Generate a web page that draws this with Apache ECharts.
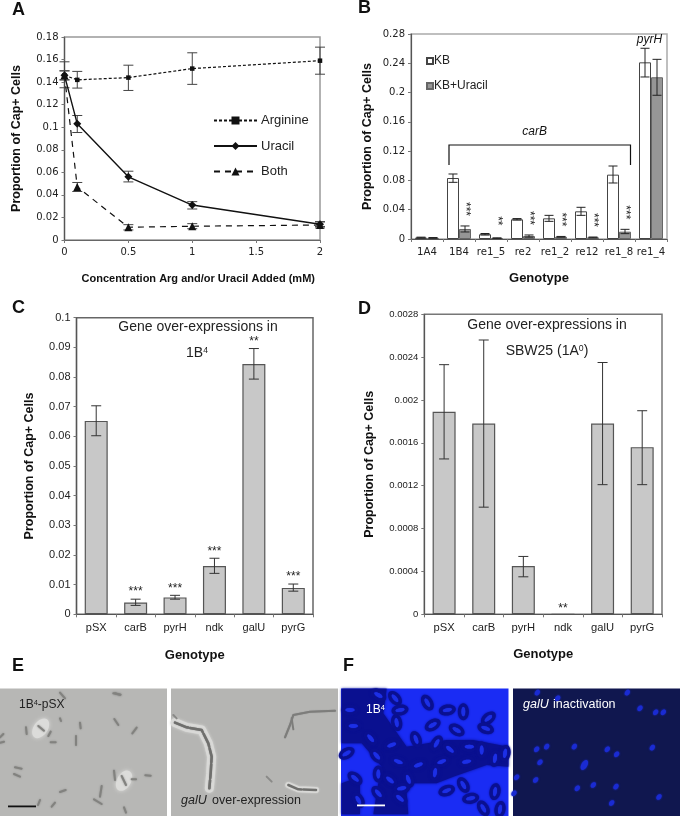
<!DOCTYPE html>
<html><head><meta charset="utf-8">
<style>html,body{margin:0;padding:0;background:#fff}#c{width:680px;height:816px}</style>
<script src="https://cdn.jsdelivr.net/npm/echarts@6/dist/echarts.min.js"></script>
</head><body><div id="c"></div>
<script>
// ---------- Panel A data ----------
const concX = [0, 0.1, 0.5, 1, 2];
const arginine = [0.146, 0.142, 0.144, 0.152, 0.159];
const arginineLo = [0.135, 0.1347, 0.1326, 0.138, 0.147];
const arginineHi = [0.158, 0.1495, 0.155, 0.166, 0.171];
const uracil = [0.146, 0.103, 0.056, 0.031, 0.014];
const uracilLo = [0.142, 0.0953, 0.0515, 0.0275, 0.012];
const uracilHi = [0.15, 0.1104, 0.061, 0.034, 0.0163];
const both = [0.146, 0.047, 0.0113, 0.0122, 0.0133];
const bothLo = [0.142, 0.043, 0.0089, 0.010, 0.0107];
const bothHi = [0.15, 0.051, 0.0136, 0.0145, 0.016];
// ---------- Panel B data ----------
const genotypesB = ['1A4', '1B4', 're1_5', 're2', 're1_2', 're12', 're1_8', 're1_4'];
const kb = [0.002, 0.0833, 0.0065, 0.0269, 0.0282, 0.0378, 0.0879, 0.2413];
const kbLo = [0.0015, 0.0774, 0.0055, 0.0259, 0.0241, 0.0323, 0.0765, 0.2213];
const kbHi = [0.0025, 0.0888, 0.0075, 0.0279, 0.0323, 0.0433, 0.0997, 0.2605];
const kbUracil = [0.0015, 0.0137, 0.0012, 0.004, 0.003, 0.0022, 0.010, 0.2209];
const kbUracilLo = [0.001, 0.0096, 0.0008, 0.0025, 0.0025, 0.0017, 0.0073, 0.1963];
const kbUracilHi = [0.002, 0.0178, 0.0016, 0.0055, 0.0035, 0.0027, 0.0132, 0.2454];
const starsB = ['', '***', '**', '***', '***', '***', '***', ''];
// ---------- Panel C data ----------
const genes = ['pSX', 'carB', 'pyrH', 'ndk', 'galU', 'pyrG'];
const cVals = [0.0652, 0.0040, 0.0057, 0.0163, 0.0844, 0.0089];
const cLo = [0.0602, 0.0030, 0.0051, 0.0138, 0.0793, 0.0078];
const cHi = [0.0703, 0.0051, 0.0064, 0.0189, 0.0896, 0.0102];
const starsC = ['', '***', '***', '***', '**', '***'];
// ---------- Panel D data ----------
const dVals = [0.00189, 0.00178, 0.00045, 0, 0.00178, 0.00156];
const dLo = [0.00145, 0.0010, 0.00035, 0, 0.00121, 0.00121];
const dHi = [0.00233, 0.00256, 0.00054, 0, 0.00235, 0.0019];
const starsD = ['', '', '', '**', '', ''];

const SANS = '"Liberation Sans", Arial, sans-serif';
const VERD = '"DejaVu Sans", Verdana, sans-serif';

function errSeries(name, xAxisIndex, yAxisIndex, xs, lo, hi, opt) {
  opt = opt || {};
  const cap = opt.cap || 4, off = opt.off || 0, color = opt.color || '#333', lw = opt.lw || 1;
  const stars = opt.stars;
  return {
    type: 'custom', name: name, xAxisIndex, yAxisIndex, silent: true, z: 5, clip: false,
    data: xs.map((x, i) => [x, lo[i], hi[i]]),
    encode: { x: 0, y: [1, 2] },
    renderItem(params, api) {
      const a = api.coord([api.value(0), api.value(1)]);
      const b = api.coord([api.value(0), api.value(2)]);
      const x = a[0] + off;
      const st = { stroke: color, lineWidth: lw };
      const kids = [];
      if (a[1] !== b[1]) {
        kids.push({ type: 'line', shape: { x1: x, y1: a[1], x2: x, y2: b[1] }, style: st });
        kids.push({ type: 'line', shape: { x1: x - cap, y1: a[1], x2: x + cap, y2: a[1] }, style: st });
        kids.push({ type: 'line', shape: { x1: x - cap, y1: b[1], x2: x + cap, y2: b[1] }, style: st });
      }
      const s = stars && stars[params.dataIndex];
      if (s) {
        kids.push({
          type: 'text', x: x, y: b[1] - opt.starGap, rotation: opt.starRot || 0,
          style: { text: s, fill: '#222', font: '12px ' + SANS, align: 'center', verticalAlign: 'middle' }
        });
      }
      return { type: 'group', children: kids };
    }
  };
}
const idx = a => a.map((_, i) => i);

function catAxis(gridIndex, data, font, size, name, gap, pad) {
  return {
    type: 'category', gridIndex, data,
    axisLine: { show: true, lineStyle: { color: '#555', width: 1.2 } },
    axisTick: { show: true, length: 3, lineStyle: { color: '#777' } },
    axisLabel: { color: '#222', fontFamily: font, fontSize: size, margin: 8, interval: 0 },
    name, nameLocation: 'middle', nameGap: gap,
    nameTextStyle: { fontFamily: SANS, fontWeight: 'bold', fontSize: 13, color: '#111', padding: pad || 0 }
  };
}
function valAxis(gridIndex, max, interval, font, size, gap, fmt) {
  return {
    type: 'value', gridIndex, min: 0, max, interval,
    splitLine: { show: false },
    axisLine: { show: true, lineStyle: { color: '#555', width: 1.2 } },
    axisTick: { show: true, length: 3, lineStyle: { color: '#777' } },
    axisLabel: { color: '#222', fontFamily: font, fontSize: size, margin: 6, formatter: fmt },
    name: 'Proportion of Cap+ Cells', nameLocation: 'middle', nameGap: gap,
    nameTextStyle: { fontFamily: SANS, fontWeight: 'bold', fontSize: 12.5, color: '#111' }
  };
}
function barStyle(fill, border, bw) { return { color: fill, borderColor: border, borderWidth: bw }; }

// ---------- photographs (panels E, F), drawn as decoration; coordinates are crop coords / 3 ----------
const els = [];
const PY = 650;
function T(ox, p) { const o = []; for (let i = 0; i < p.length; i += 2) o.push([ox + p[i] / 3, PY + p[i + 1] / 3]); return o; }
function photoRect(x, w, fill) { els.push({ type: 'rect', silent: true, shape: { x, y: 688.5, width: w, height: 127.5 }, style: { fill } }); }
function clipped(x, w) { return { type: 'rect', shape: { x, y: 688.5, width: w, height: 127.5 } }; }
function poly(ox, p, st) { els.push({ type: 'polyline', silent: true, shape: { points: T(ox, p) }, style: Object.assign({ fill: null, lineCap: 'round', lineJoin: 'round' }, st) }); }
function polygon(ox, p, fill, blur) { els.push({ type: 'polygon', silent: true, shape: { points: T(ox, p) }, style: { fill, shadowBlur: blur || 0, shadowColor: fill } }); }
function ell(ox, x, y, rx, ry, deg, fill, blur) {
  els.push({ type: 'ellipse', silent: true, x: ox + x / 3, y: PY + y / 3, rotation: -deg * Math.PI / 180,
    shape: { cx: 0, cy: 0, rx, ry }, style: { fill, shadowBlur: blur || 0, shadowColor: fill } });
}
// E left
photoRect(0, 167, '#b7b7b5');
ell(0, 122, 235, 11, 7, -55, '#dcdcda', 4);
ell(0, 372, 392, 11, 7, -60, '#dcdcda', 4);
[[180,128,195,145],[340,130,362,134],[115,228,132,242],[78,232,80,252],[145,258,152,245],[152,277,167,277],[228,258,228,285],[240,218,242,235],[343,207,355,225],[397,250,410,233],[180,205,183,213],[0,278,12,275],[0,262,10,252],[45,352,65,356],[42,372,60,380],[342,362,345,390],[365,378,378,405],[395,388,408,388],[436,376,452,377],[305,408,300,440],[282,448,305,462],[180,426,197,420],[120,450,114,465],[155,470,165,458],[372,472,378,488],[345,130,360,134]]
  .forEach(r => poly(0, r, { stroke: '#82827f', lineWidth: 2, shadowBlur: 2, shadowColor: '#8a8a88' }));
// E right
photoRect(171, 167, '#b5b5b3');
const chain1 = [525,218,560,232,605,240,625,280,635,320,632,370,628,415];
const chain3 = [865,405,895,418,948,420];
poly(0, chain1, { stroke: '#d9d9d7', lineWidth: 9, shadowBlur: 3, shadowColor: '#d9d9d7' });
poly(0, chain3, { stroke: '#d9d9d7', lineWidth: 6, shadowBlur: 2, shadowColor: '#d9d9d7' });
poly(0, chain1, { stroke: '#6f6f6d', lineWidth: 2.5, lineDash: [14, 2], shadowBlur: 1, shadowColor: '#777' });
poly(0, chain3, { stroke: '#6f6f6d', lineWidth: 2.5, lineDash: [14, 2] });
poly(0, [1005,182,930,185,880,195,870,225,855,262], { stroke: '#7d7d7b', lineWidth: 2, shadowBlur: 1, shadowColor: '#888' });
poly(0, [875,205,880,238], { stroke: '#7d7d7b', lineWidth: 2 });
[[800,380,815,395],[520,195,530,205]].forEach(r => poly(0, r, { stroke: '#8a8a88', lineWidth: 2 }));
// F left
const BRIGHT = '#1a2cf4', DARK = '#0a1090', CELL = '#1c2fe6';
photoRect(341, 167.5, BRIGHT);
polygon(340, [5,116,140,116,130,190,200,290,320,270,400,270,505,290,505,350,440,345,340,380,290,400,220,400,200,430,205,493,100,493,115,400,125,350,65,280,5,280], DARK, 3);
polygon(340, [5,400,60,380,60,493,5,493], DARK, 3);
[[30,180,0],[40,228,0],[115,135,30],[165,145,50],[262,158,60],[170,218,80],[180,180,-10],[228,268,70],[278,225,-30],[322,180,-10],[370,185,90],[350,240,30],[445,205,-40],[437,235,20],[92,265,50],[110,317,50],[175,335,20],[155,285,-20],[290,280,-60],[388,290,0],[425,300,90],[305,335,-20],[330,298,40],[380,335,-10],[465,325,-80],[495,310,-80],[115,372,90],[45,385,40],[150,390,40],[205,388,70],[235,345,-20],[285,368,-80],[185,415,-10],[115,430,50],[55,450,60],[320,422,-20],[370,405,60],[392,445,-10],[465,425,-80],[430,475,60],[480,478,-80],[180,445,40],[20,310,-30]]
  .forEach(c => { ell(340, c[0], c[1], 8.5, 5.5, c[2], DARK, 2); ell(340, c[0], c[1], 4.6, 1.9, c[2], CELL, 1); });
// F right
photoRect(513, 167, '#10174f');
[[592,128],[653,145],[862,128],[900,175],[947,187],[970,187],[590,298],[620,290],[703,290],[802,298],[830,313],[937,293],[600,337],[733,345,1],[530,382],[587,390],[712,415],[760,405],[828,410],[522,430],[957,441],[815,459]]
  .forEach(d => ell(340, d[0], d[1], d[2] ? 5.5 : 3.2, d[2] ? 3 : 2.3, d[2] ? -60 : -50, '#1a2bd2', 2));
// scale bars
els.push({ type: 'rect', silent: true, shape: { x: 8, y: 805.5, width: 28, height: 1.8 }, style: { fill: '#111' } });
els.push({ type: 'rect', silent: true, shape: { x: 357, y: 804.5, width: 28, height: 1.8 }, style: { fill: '#fff' } });

function label(text, x, y, size, color, extra) {
  els.push({ type: 'text', silent: true, x, y, style: Object.assign({ text, fill: color, font: size + 'px ' + SANS, verticalAlign: 'middle', align: 'left' }, extra || {}) });
}
function supLabel(a, sup, b, x, y, color, align, size) {
  const rich = {
    n: { fontFamily: SANS, fontSize: size, fill: color, color },
    i: { fontFamily: SANS, fontSize: size, fill: color, color, fontStyle: 'italic' },
    s: { fontFamily: SANS, fontSize: size * 0.62, fill: color, color, verticalAlign: 'top', padding: [0, 0, size * 0.4, 0] }
  };
  els.push({ type: 'text', silent: true, x, y, style: { text: '{n|' + a + '}{s|' + sup + '}{n|' + b + '}', rich, align, verticalAlign: 'middle' } });
}
['A', 18, 11], ['B', 364, 9];
[['A', 12, 10], ['B', 358, 8], ['C', 12, 308], ['D', 358, 309], ['E', 12, 666], ['F', 343, 666]].forEach(p =>
  label(p[0], p[1], p[2], 18, '#111', { font: 'bold 18px ' + SANS }));

// photo captions
supLabel('1B', '4', '-pSX', 19, 705, '#222', 'left', 12);
label('galU', 181, 801, 12, '#222', { font: 'italic 12.5px ' + SANS });
label('over-expression', 212, 801, 12.5, '#222');
supLabel('1B', '4', '', 366, 710, '#fff', 'left', 12);
label('galU', 523, 705, 12.5, '#fff', { font: 'italic 12.5px ' + SANS });
label('inactivation', 553, 705, 12.5, '#fff');

// annotations on charts
label('Gene over-expressions in', 198, 327, 14, '#222', { align: 'center' });
supLabel('1B', '4', '', 197, 353, '#222', 'center', 14);
label('Gene over-expressions in', 547, 325, 14, '#222', { align: 'center' });
supLabel('SBW25 (1A', '0', ')', 547, 351, '#222', 'center', 14);
label('carB', 534.7, 132, 12, '#111', { align: 'center', font: 'italic 12px ' + SANS });
label('pyrH', 649.5, 40, 12, '#111', { align: 'center', font: 'italic 12px ' + SANS });
els.push({ type: 'polyline', silent: true, shape: { points: [[449, 165], [449, 145], [630.5, 145], [630.5, 165]] }, style: { fill: null, stroke: '#111', lineWidth: 1.2 } });

const option = {
  animation: false,
  backgroundColor: '#fff',
  textStyle: { fontFamily: SANS },
  grid: [
    { left: 64.5, top: 37, width: 255.5, height: 203, show: true, borderColor: '#999', borderWidth: 1.5, backgroundColor: 'transparent' },
    { left: 411, top: 34, width: 256, height: 205, show: true, borderColor: '#aaa', borderWidth: 1.5, backgroundColor: 'transparent' },
    { left: 76.5, top: 317.7, width: 236.5, height: 296.6, show: true, borderColor: '#666', borderWidth: 1.5, backgroundColor: 'transparent' },
    { left: 424.3, top: 314.3, width: 237.7, height: 300, show: true, borderColor: '#777', borderWidth: 1.5, backgroundColor: 'transparent' }
  ],
  xAxis: [
    {
      type: 'value', gridIndex: 0, min: 0, max: 2, interval: 0.5, splitLine: { show: false },
      axisLine: { show: true, onZero: false, lineStyle: { color: '#666', width: 1.2 } },
      axisTick: { show: true, length: 3, lineStyle: { color: '#777' } },
      axisLabel: { color: '#222', fontFamily: VERD, fontSize: 10, margin: 7 },
      name: 'Concentration Arg and/or Uracil Added (mM)', nameLocation: 'middle', nameGap: 33,
      nameTextStyle: { fontFamily: SANS, fontWeight: 'bold', fontSize: 11, color: '#111', padding: [0, 0, 0, 12] }
    },
    catAxis(1, genotypesB, VERD, 10.2, 'Genotype', 33),
    catAxis(2, genes, SANS, 11, 'Genotype', 35),
    catAxis(3, genes, SANS, 11.2, 'Genotype', 34)
  ],
  yAxis: [
    valAxis(0, 0.18, 0.02, VERD, 10, 41),
    valAxis(1, 0.28, 0.04, VERD, 10, 37),
    valAxis(2, 0.1, 0.01, SANS, 11, 40),
    valAxis(3, 0.0028, 0.0004, SANS, 9.5, 48)
  ],
  legend: [
    {
      data: ['Arginine', 'Uracil', 'Both'], orient: 'vertical', left: 208, top: 109, itemWidth: 43, itemHeight: 10, itemGap: 12.5,
      selectedMode: false, textStyle: { fontFamily: SANS, fontSize: 13, color: '#222', padding: [0, 0, 0, -1] }
    },
    {
      data: ['KB', 'KB+Uracil'], orient: 'vertical', left: 421, top: 50, itemWidth: 6, itemHeight: 6, itemGap: 13, icon: 'rect',
      selectedMode: false, textStyle: { fontFamily: SANS, fontSize: 12, color: '#222', padding: [4, 0, 0, -4] }
    }
  ],
  series: [
    errSeries('errArg', 0, 0, concX, arginineLo, arginineHi, { cap: 5, color: '#444' }),
    errSeries('errUra', 0, 0, concX, uracilLo, uracilHi, { cap: 5, color: '#444' }),
    errSeries('errBoth', 0, 0, concX, bothLo, bothHi, { cap: 5, color: '#444' }),
    { type: 'line', name: 'Arginine', xAxisIndex: 0, yAxisIndex: 0, clip: false, z: 6, data: concX.map((x, i) => [x, arginine[i]]), symbol: 'rect', symbolSize: 4.5,
      lineStyle: { color: '#111', width: 1.2, type: [3, 2] }, itemStyle: { color: '#111' } },
    { type: 'line', name: 'Uracil', xAxisIndex: 0, yAxisIndex: 0, clip: false, z: 6, data: concX.map((x, i) => [x, uracil[i]]), symbol: 'diamond', symbolSize: 8,
      lineStyle: { color: '#111', width: 1.4 }, itemStyle: { color: '#111' } },
    { type: 'line', name: 'Both', xAxisIndex: 0, yAxisIndex: 0, clip: false, z: 6, data: concX.map((x, i) => [x, both[i]]), symbol: 'triangle', symbolSize: 8,
      lineStyle: { color: '#111', width: 1.2, type: [6, 5] }, itemStyle: { color: '#111' } },

    { type: 'bar', name: 'KB', xAxisIndex: 1, yAxisIndex: 1, data: kb, barWidth: 12, barGap: '0%', itemStyle: barStyle('#fff', '#444', 1) },
    { type: 'bar', name: 'KB+Uracil', xAxisIndex: 1, yAxisIndex: 1, data: kbUracil, barWidth: 12, barGap: '0%', itemStyle: barStyle('#969696', '#666', 1) },
    errSeries('errKB', 1, 1, idx(kb), kbLo, kbHi, { off: -6, cap: 4.5, color: '#222' }),
    errSeries('errKBU', 1, 1, idx(kb), kbUracilLo, kbUracilHi, { off: 6, cap: 4.5, color: '#222', stars: starsB, starGap: 17, starRot: -Math.PI / 2 }),

    { type: 'bar', name: 'Over-expression 1B4', xAxisIndex: 2, yAxisIndex: 2, data: cVals, barWidth: 23, itemStyle: barStyle('#c8c8c8', '#555', 1.2) },
    errSeries('errC', 2, 2, idx(cVals), cLo, cHi, { cap: 5, color: '#333', stars: starsC, starGap: 7 }),

    { type: 'bar', name: 'Over-expression SBW25', xAxisIndex: 3, yAxisIndex: 3, data: dVals, barWidth: 23, itemStyle: barStyle('#c8c8c8', '#555', 1.2) },
    errSeries('errD', 3, 3, idx(dVals), dLo, dHi, { cap: 5, color: '#333', stars: starsD, starGap: 6 })
  ],
  graphic: { elements: els }
};
const chart = echarts.init(document.getElementById('c'), null, { renderer: 'canvas' });
chart.setOption(option);
</script>
</body></html>
